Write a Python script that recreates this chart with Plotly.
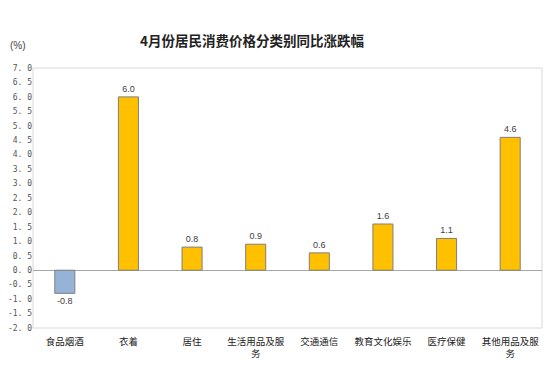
import plotly.graph_objects as go

categories = ["食品烟酒", "衣着", "居住", "生活用品及服<br>务", "交通通信", "教育文化娱乐", "医疗保健", "其他用品及服<br>务"]
values = [-0.8, 6.0, 0.8, 0.9, 0.6, 1.6, 1.1, 4.6]
tick_vals = [-2.0, -1.5, -1.0, -0.5, 0.0, 0.5, 1.0, 1.5, 2.0, 2.5, 3.0, 3.5, 4.0, 4.5, 5.0, 5.5, 6.0, 6.5, 7.0]
tick_text = [f"{v:.1f}".replace(".", ". ") for v in tick_vals]
title = "4月份居民消费价格分类别同比涨跌幅"

colors = ["#95B3D7" if v < 0 else "#FFC000" for v in values]

# page body adds an 8px offset; compensate
W, H = 546, 360
L, R, T, B = 25, 12, 60, 40
pw, ph = W - L - R, H - T - B

fig = go.Figure()
fig.add_trace(go.Bar(
    x=categories, y=values,
    marker=dict(color=colors, line=dict(color="#7F7F7F", width=1)),
    text=[f"{v:.1f}" for v in values],
    textposition="outside",
    textfont=dict(size=9, color="#404040", family="Liberation Sans, Arial"),
    cliponaxis=False,
))

fig.update_layout(
    width=W, height=H,
    margin=dict(l=L, r=R, t=T, b=B),
    paper_bgcolor="white", plot_bgcolor="white",
    showlegend=False,
    bargap=0.685,
    font=dict(family="Noto Sans CJK SC", color="#333333"),
    xaxis=dict(
        showgrid=False, showline=False, ticks="",
        tickfont=dict(size=9.5, color="#222222", family="Noto Sans CJK SC"),
        automargin=False, ticklabelstandoff=6,
    ),
    yaxis=dict(
        range=[-2.0, 7.0], tickvals=tick_vals, ticktext=tick_text,
        showgrid=False, zeroline=True, zerolinecolor="#A6A6A6", zerolinewidth=1,
        ticks="", tickfont=dict(size=8, color="#555555", family="DejaVu Sans Mono"),
        showline=False, automargin=False,
    ),
    shapes=[dict(type="rect", xref="paper", yref="paper", x0=0, x1=1, y0=0, y1=1,
                 line=dict(color="#D9D9D9", width=1), layer="below")],
    annotations=[
        dict(text="<b>" + title + "</b>", xref="paper", yref="paper", x=(252 - 33) / pw, y=1 + (68 - 40) / ph,
             showarrow=False, font=dict(size=13.5, color="#222222", family="Noto Sans CJK SC"),
             xanchor="center", yanchor="middle"),
        dict(text="(%)", xref="paper", yref="paper", x=(18 - 33) / pw, y=1 + (68 - 45) / ph,
             showarrow=False, font=dict(size=10, color="#444444", family="Liberation Sans"),
             xanchor="center", yanchor="middle"),
    ],
)

fig.write_html("out.html")
